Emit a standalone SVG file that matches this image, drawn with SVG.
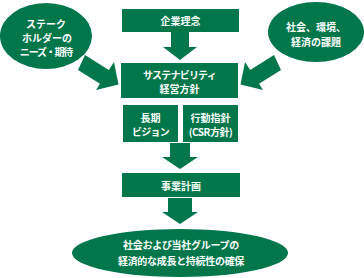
<svg xmlns="http://www.w3.org/2000/svg" width="364" height="278" viewBox="0 0 364 278">
<style>
.g{fill:#00764b}
.t{fill:#fff;font-family:"Noto Sans CJK JP","Noto Sans",sans-serif;font-size:10px;font-weight:bold;text-anchor:middle;dominant-baseline:central}
</style>
<rect width="364" height="278" fill="#fff"/>
<g id="connectors">
<polygon class="g" points="85,55 108.8,70 114,62 118.5,84.5 96,90 100,83.8 78,70"/>
<polygon class="g" points="274,55 250.2,70 245,62 240.5,84.5 263,90 259,83.8 281,70"/>
<polygon class="g" points="171,32 189,32 189,47 197,47 180,60 163,47 171,47"/>
<polygon class="g" points="170,143 190,143 190,157 198,157 180,169 162,157 170,157"/>
<polygon class="g" points="168,198 192,198 192,212 198,212 180,224 162,212 168,212"/>
</g>
<g id="stakeholder">
<ellipse class="g" cx="46" cy="36" rx="46" ry="33"/>
<text class="t" x="46" y="23">ステーク</text>
<text class="t" x="47" y="37">ホルダーの</text>
<text class="t" x="46" y="51" letter-spacing="-1.2">ニーズ・期待</text>
</g>
<g id="society">
<ellipse class="g" cx="316" cy="32" rx="48" ry="30"/>
<text class="t" x="316" y="26">社会、環境、</text>
<text class="t" x="316" y="41">経済の課題</text>
</g>
<g id="philosophy">
<rect class="g" x="122" y="9" width="117" height="23"/>
<text class="t" x="180.5" y="20.5">企業理念</text>
</g>
<g id="sustainability">
<rect class="g" x="121" y="63" width="117" height="35"/>
<text class="t" x="179.5" y="74" letter-spacing="-0.8">サステナビリティ</text>
<text class="t" x="179.5" y="88">経営方針</text>
</g>
<g id="vision">
<rect class="g" x="123" y="105" width="55" height="37"/>
<text class="t" x="150.5" y="117">長期</text>
<text class="t" x="150.5" y="131" letter-spacing="-0.8">ビジョン</text>
</g>
<g id="conduct">
<rect class="g" x="183" y="105" width="55" height="37"/>
<text class="t" x="210.5" y="117">行動指針</text>
<text class="t" x="210.5" y="131" font-size="9.5" letter-spacing="-0.5">(CSR方針)</text>
</g>
<g id="plan">
<rect class="g" x="122" y="173" width="118" height="24"/>
<text class="t" x="181" y="185">事業計画</text>
</g>
<g id="goal">
<ellipse class="g" cx="180" cy="253" rx="108" ry="24"/>
<text class="t" x="181" y="244" letter-spacing="-0.3">社会および当社グループの</text>
<text class="t" x="181" y="260" letter-spacing="-0.3">経済的な成長と持続性の確保</text>
</g>
</svg>
